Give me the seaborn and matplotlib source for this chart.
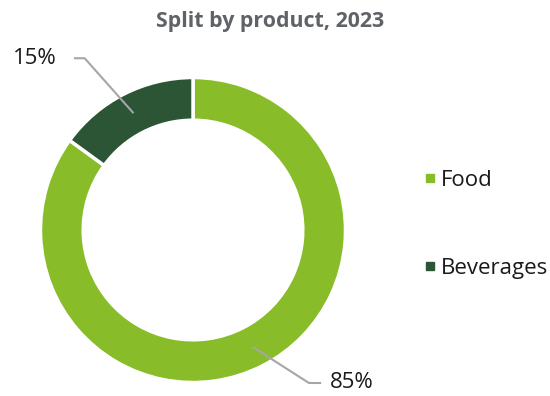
import numpy as np
import matplotlib
matplotlib.use("Agg")
import matplotlib.pyplot as plt
import seaborn as sns
from matplotlib.lines import Line2D

categories = ["Food", "Beverages"]
values = [85, 15]
labels = ["85%", "15%"]
colors = ["#88BC28", "#2B5534"]
title = "Split by product, 2023"

sns.set_theme(style="white")
plt.rcParams['font.family'] = ['Open Sans', 'DejaVu Sans']

W, H = 550, 396
fig = plt.figure(figsize=(W / 100, H / 100), dpi=100)
R = 152.5
cx, cy = 193, 230
ax = fig.add_axes([(cx - R) / W, 1 - (cy + R) / H, 2 * R / W, 2 * R / H])
wedges, _ = ax.pie(values, colors=colors, startangle=90, counterclock=False,
                   radius=1.0, wedgeprops=dict(width=0.28, edgecolor="white", linewidth=2.5))
ax.set_xlim(-1, 1)
ax.set_ylim(-1, 1)
ax.axis("off")

line_kw = dict(color="#A6A6A6", lw=1.5, solid_capstyle="butt")
for w, lab in zip(wedges, labels):
    ang = np.deg2rad((w.theta1 + w.theta2) / 2)
    r = 0.86
    px, py = r * np.cos(ang), r * np.sin(ang)
    if py > 0:
        ey = py + 0.36
        ex = px - 0.32
        hx = ex - 0.07
        ax.plot([px, ex, hx], [py, ey, ey], clip_on=False, **line_kw)
        ax.text(hx - 0.115, ey, lab, ha="right", va="center", fontsize=16, color="#1A1A1A")
    else:
        ey = py - 0.237
        ex = px + 0.37
        hx = ex + 0.08
        ax.plot([px, ex, hx], [py, ey, ey], clip_on=False, **line_kw)
        ax.text(hx + 0.06, ey, lab, ha="left", va="center", fontsize=16, color="#1A1A1A")

fig.text(0.492, 1 - 22 / H, title, ha="center", va="center", fontsize=15.4,
         fontweight="bold", color="#5F6368")

handles = [Line2D([0], [0], marker="s", color="none", markerfacecolor=c,
                  markeredgecolor=c, markersize=6) for c in colors]
fig.legend(handles, categories, loc="center left", bbox_to_anchor=(423.5 / W, 1 - 224.5 / H),
           frameon=False, fontsize=16, handlelength=0.6, handletextpad=0.2,
           borderpad=0, borderaxespad=0,
           labelspacing=3.0, labelcolor="#1A1A1A")

fig.savefig("out.png", dpi=100)
